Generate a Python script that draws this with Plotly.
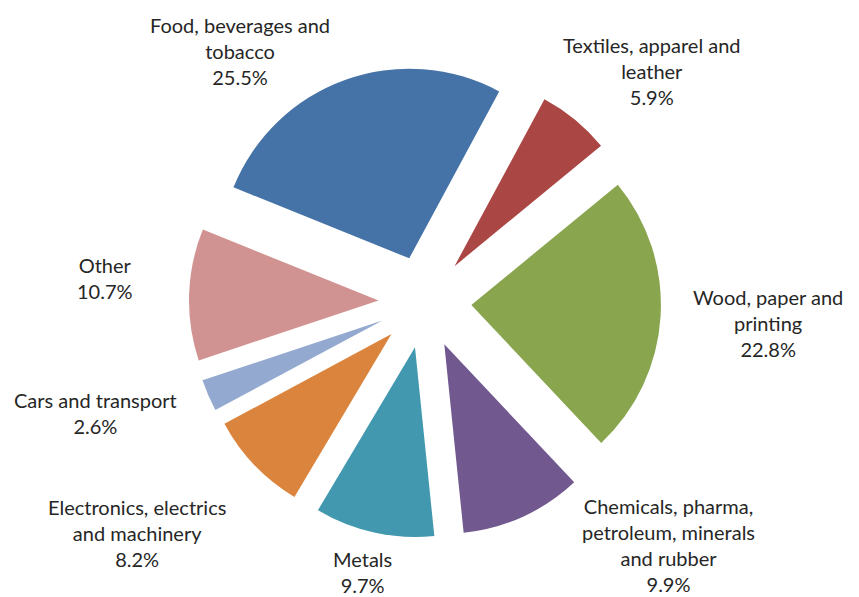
import plotly.graph_objects as go

labels = ["Food, beverages and tobacco", "Textiles, apparel and leather", "Wood, paper and printing",
          "Chemicals, pharma, petroleum, minerals and rubber", "Metals",
          "Electronics, electrics and machinery", "Cars and transport", "Other"]
label_lines = ["Food, beverages and<br>tobacco", "Textiles, apparel and<br>leather", "Wood, paper and<br>printing",
               "Chemicals, pharma,<br>petroleum, minerals<br>and rubber", "Metals",
               "Electronics, electrics<br>and machinery", "Cars and transport", "Other"]
values = [25.5, 5.9, 22.8, 9.9, 9.7, 8.2, 2.6, 10.7]
colors = ["#4572A7", "#AA4643", "#89A54E", "#71588F", "#4198AF", "#DB843D", "#93A9CF", "#D19392"]

# label anchor positions (pixels, center of text block)
label_pos = [(240, 51), (652, 71), (768, 323), (668, 545), (362, 572), (137, 533), (95, 413), (105, 278)]

W, H = 859, 597
cx, cy = 425, 302
pull = 0.245
box = 472

fig = go.Figure(go.Pie(
    labels=labels, values=values, sort=False, direction="clockwise", rotation=292,
    pull=[pull] * len(values), marker=dict(colors=colors, line=dict(width=0)),
    textinfo="none", hoverinfo="label+percent", showlegend=False,
    domain=dict(x=[(cx - box / 2) / W, (cx + box / 2) / W],
                y=[1 - (cy + box / 2) / H, 1 - (cy - box / 2) / H]),
))

for txt, v, (px, py) in zip(label_lines, values, label_pos):
    fig.add_annotation(x=px / W, y=1 - py / H, xref="paper", yref="paper",
                       text=f"{txt}<br>{v:.1f}%", showarrow=False, align="center",
                       xanchor="center", yanchor="middle", borderpad=0,
                       font=dict(family="Lato", size=20, color="#262626"))

fig.update_layout(width=W, height=H, margin=dict(l=0, r=0, t=0, b=0),
                  paper_bgcolor="white", plot_bgcolor="white")
fig.write_html("out.html")
